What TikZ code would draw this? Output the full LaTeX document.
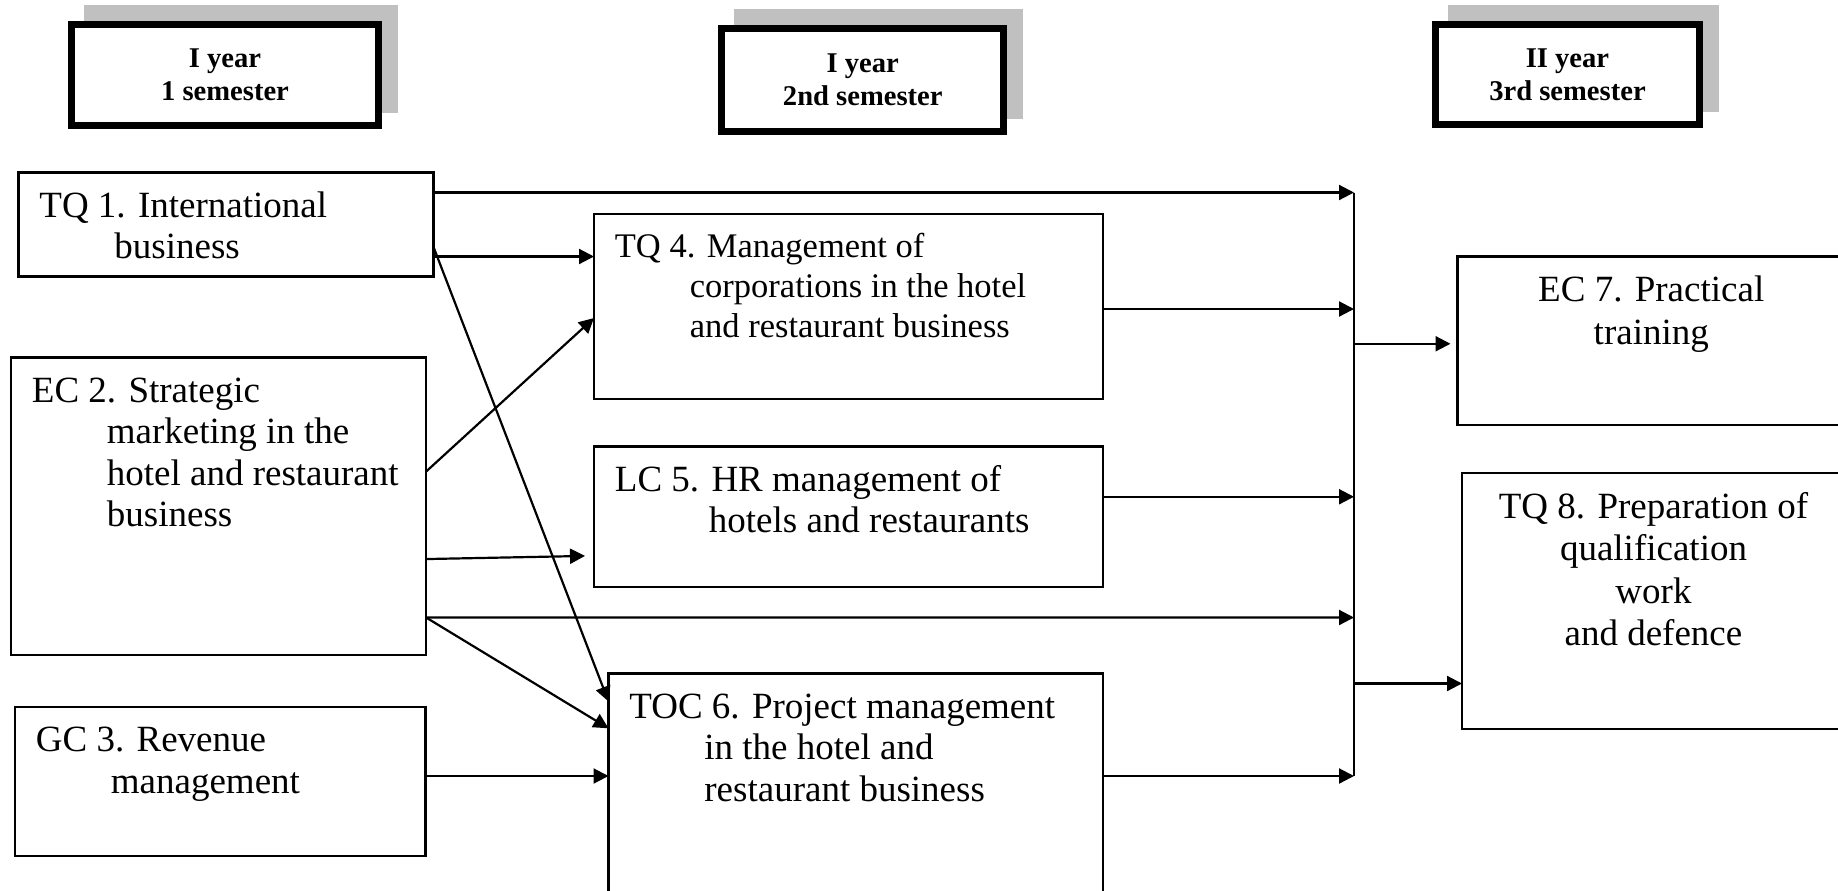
\documentclass[tikz,border=0pt]{standalone}
\usepackage{fontspec}
\setmainfont{Liberation Serif}
\usetikzlibrary{arrows.meta,shadows}
\definecolor{shadowgray}{HTML}{C0C0C0}
\newcommand{\bodyfont}{\fontsize{18.5pt}{20.75pt}\selectfont}
\newcommand{\indentline}{\hspace*{37.5pt}}
\begin{document}
\begin{tikzpicture}[x=0.5pt, y=-0.5pt,
    box/.style={draw, line width=1.1pt, inner sep=0pt, outer sep=0pt, anchor=north west},
    txt/.style={anchor=north west, align=left, inner sep=0pt, xshift=10.25pt, yshift=-7.75pt, font=\bodyfont},
    ctxt/.style={anchor=north, align=center, inner sep=0pt, yshift=-7.5pt, font=\fontsize{18.5pt}{21.25pt}\selectfont},
    yearbox/.style={draw, line width=3.5pt, fill=white, inner sep=0pt, outer sep=0pt, align=center,
        font=\bfseries\fontsize{14.3pt}{16.5pt}\selectfont,
        general shadow={fill=shadowgray, draw=shadowgray, line width=3.5pt, shadow xshift=8pt, shadow yshift=8pt}},
    arr/.style={line width=1.1pt, -{Triangle[length=7.5pt, width=7.5pt]}}]
    \useasboundingbox (0,0) rectangle (1838,890);
    \clip (0,0) rectangle (1838,890);

    % semesters
    \node[yearbox, minimum width=153.2pt, minimum height=50.8pt] at (225,75) (sem1) {I year\\1 semester};
    \node[yearbox, minimum width=141pt, minimum height=51.25pt] at (862.8,79.75) (sem2) {I year\\2nd semester};
    \node[yearbox, minimum width=132.3pt, minimum height=50.3pt] at (1567.5,74.5) (sem3) {II year\\3rd semester};

    % first semester
    \node[box, minimum width=207.5pt, minimum height=52pt,
        label={[txt]north west:\strut TQ 1. International\\\indentline business}] at (18.5,172.5) (tq1) {};
    \node[box, minimum width=207.5pt, minimum height=148.75pt,
        label={[txt]north west:\strut EC 2. Strategic\\\indentline marketing in the\\\indentline hotel and restaurant\\\indentline business}] at (11,357.5) (ec2) {};
    \node[box, minimum width=205.25pt, minimum height=74.5pt,
        label={[txt]north west:\strut GC 3. Revenue\\\indentline management}] at (15,707) (gc3) {};

    % second semester
    \node[box, minimum width=254.5pt, minimum height=92.5pt,
        label={[txt, font=\fontsize{17.25pt}{20pt}\selectfont]north west:\strut TQ 4. Management of\\\indentline corporations in the hotel\\\indentline and restaurant business}] at (594,214) (tq4) {};
    \node[box, minimum width=254.5pt, minimum height=70.25pt,
        label={[txt]north west:\strut LC 5. HR management of\\\hspace*{47pt}hotels and restaurants}] at (594,446.5) (lc5) {};
    \node[box, minimum width=247.25pt, minimum height=150pt,
        label={[txt]north west:\strut TOC 6. Project management\\\indentline in the hotel and\\\indentline restaurant business}] at (608.5,673.5) (toc6) {};

    % third semester
    \node[box, minimum width=193.75pt, minimum height=84.25pt,
        label={[ctxt]north:\strut EC 7. Practical\\training}] at (1457.5,256.5) (ec7) {};
    \node[box, minimum width=191.5pt, minimum height=128pt,
        label={[ctxt]north:\strut TQ 8. Preparation of\\qualification\\work\\and defence}] at (1462,473) (tq8) {};

    % bus
    \coordinate (bus1) at (1354,192.5);
    \coordinate (bus2) at (1354,309);
    \coordinate (busA) at (1354,343.75);
    \coordinate (bus3) at (1354,496.75);
    \coordinate (bus4) at (1354,617.5);
    \coordinate (busB) at (1354,683.5);
    \coordinate (bus5) at (1354,776);
    \draw[line width=1.1pt] (bus1) -- (bus5);

    \draw[arr] ([yshift=16pt]tq1.east) -- (bus1);
    \draw[arr] ([yshift=-16pt]tq1.east) -- ([yshift=25pt]tq4.west);
    \draw[arr] ([yshift=-11.25pt]tq1.east) -- ([yshift=-14pt]toc6.north west);

    \draw[arr] ([yshift=17.3pt]ec2.east) -- ([yshift=-5.75pt]tq4.west);
    \draw[arr, shorten >=4.5pt] ([yshift=-26.4pt]ec2.east) -- ([yshift=-19.5pt]lc5.west);
    \draw[arr] ([yshift=-55.6pt]ec2.east) -- (bus4);
    \draw[arr] ([yshift=-55.6pt]ec2.east) -- ([yshift=-27.4pt]toc6.north west);

    \draw[arr] ([yshift=2.75pt]gc3.east) -- ([yshift=-51.25pt]toc6.north west);

    \draw[arr] ([yshift=-1.25pt]tq4.east) -- (bus2);
    \draw[arr] ([yshift=10pt]lc5.east) -- (bus3);
    \draw[arr] ([yshift=-51.25pt]toc6.north east) -- (bus5);

    \draw[arr, shorten >=3.5pt] (busA) -- ([yshift=-1.5pt]ec7.west);
    \draw[arr] (busB) -- ([yshift=-41.25pt]tq8.west);
\end{tikzpicture}
\end{document}
